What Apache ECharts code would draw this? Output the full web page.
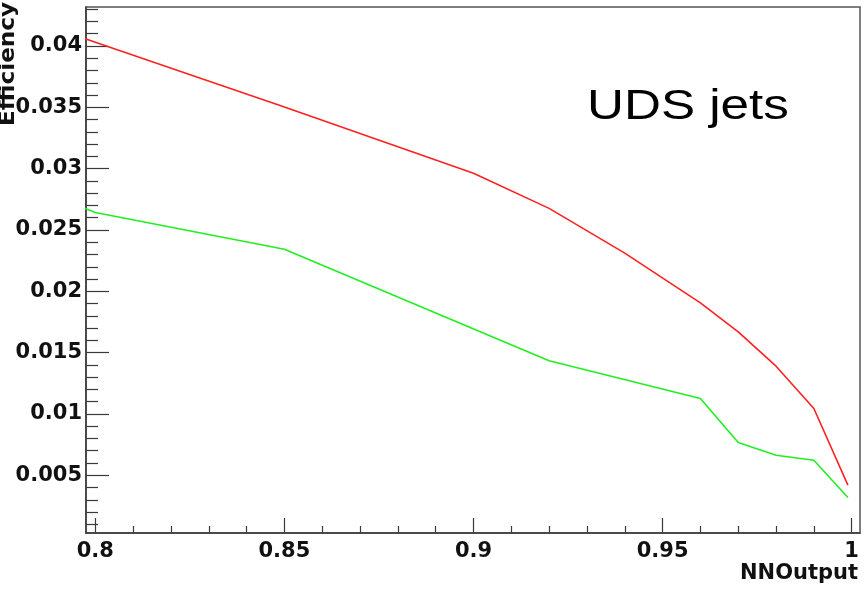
<!DOCTYPE html>
<html>
<head>
<meta charset="utf-8">
<style>
  html, body { margin: 0; padding: 0; background: #ffffff; }
  #chart { width: 865px; height: 591px; }
</style>
<script src="https://cdn.jsdelivr.net/npm/echarts@6/dist/echarts.min.js"></script>
</head>
<body>
<div id="chart"></div>
<script>
// ---- data ----
const nnOutput   = [0.79, 0.80, 0.85, 0.90, 0.92, 0.94, 0.96, 0.97, 0.98, 0.99, 0.999];
const redEff     = [0.04136, 0.04031, 0.03503, 0.02962, 0.02676, 0.02311, 0.01906, 0.01669, 0.01389, 0.01044, 0.00419];
const greenX     = [0.79, 0.80, 0.85, 0.92, 0.96, 0.97, 0.98, 0.99, 0.999];
const greenEff   = [0.02763, 0.02643, 0.02342, 0.01433, 0.01126, 0.00767, 0.00663, 0.00622, 0.00318];

const xMajorTicks  = [0.8, 0.85, 0.9, 0.95, 1.0];
const xMajorLabels = ['0.8', '0.85', '0.9', '0.95', '1'];
const xMinorTicks  = [0.81, 0.82, 0.83, 0.84, 0.86, 0.87, 0.88, 0.89, 0.91, 0.92, 0.93, 0.94,
                      0.96, 0.97, 0.98, 0.99];
const yMajorTicks  = [0.005, 0.01, 0.015, 0.02, 0.025, 0.03, 0.035, 0.04];
const yMajorLabels = ['0.005', '0.01', '0.015', '0.02', '0.025', '0.03', '0.035', '0.04'];
const yMinorTicks  = [0.001, 0.002, 0.003, 0.004, 0.006, 0.007, 0.008, 0.009, 0.011, 0.012,
                      0.013, 0.014, 0.016, 0.017, 0.018, 0.019, 0.021, 0.022, 0.023, 0.024,
                      0.026, 0.027, 0.028, 0.029, 0.031, 0.032, 0.033, 0.034, 0.036, 0.037,
                      0.038, 0.039, 0.041, 0.042, 0.043];

const xMin = 0.79754, xMax = 1.0022;
const yMin = 0.00029, yMax = 0.04318;

const labelFont = { fontFamily: 'DejaVu Sans', fontWeight: 'bold', fontSize: 21, color: '#111' };
const axisColor = '#3a3a3a';

function labelFor(ticks, labels) {
  return function (v) {
    let best = 0, d = Infinity;
    ticks.forEach((t, i) => { const dd = Math.abs(t - v); if (dd < d) { d = dd; best = i; } });
    return labels[best];
  };
}

const chart = echarts.init(document.getElementById('chart'), null, { renderer: 'canvas' });
chart.setOption({
  animation: false,
  backgroundColor: '#ffffff',
  grid: { left: 86, right: 5, top: 7, bottom: 58, show: true, borderColor: '#555', borderWidth: 1.5, backgroundColor: 'transparent' },
  xAxis: [
    {
      type: 'value', min: xMin, max: xMax, position: 'bottom',
      axisLine: { show: true, onZero: false, lineStyle: { color: axisColor, width: 1.5 } },
      axisTick: { show: true, inside: true, length: 15, customValues: xMajorTicks, lineStyle: { color: axisColor, width: 1.2 } },
      axisLabel: { show: true, margin: 8, customValues: xMajorTicks, formatter: labelFor(xMajorTicks, xMajorLabels), ...labelFont },
      splitLine: { show: false }
    },
    {
      type: 'value', min: xMin, max: xMax, position: 'bottom',
      axisLine: { show: false },
      axisTick: { show: true, inside: true, length: 7, customValues: xMinorTicks, lineStyle: { color: axisColor, width: 1.2 } },
      axisLabel: { show: false },
      splitLine: { show: false }
    }
  ],
  yAxis: [
    {
      type: 'value', min: yMin, max: yMax, position: 'left',
      axisLine: { show: true, onZero: false, lineStyle: { color: axisColor, width: 1.5 } },
      axisTick: { show: true, inside: true, length: 23, customValues: yMajorTicks, lineStyle: { color: axisColor, width: 1.2 } },
      axisLabel: { show: true, margin: 4, customValues: yMajorTicks, formatter: labelFor(yMajorTicks, yMajorLabels), ...labelFont },
      splitLine: { show: false }
    },
    {
      type: 'value', min: yMin, max: yMax, position: 'left',
      axisLine: { show: false },
      axisTick: { show: true, inside: true, length: 12, customValues: yMinorTicks, lineStyle: { color: axisColor, width: 1.2 } },
      axisLabel: { show: false },
      splitLine: { show: false }
    }
  ],
  series: [
    {
      type: 'line', xAxisIndex: 0, yAxisIndex: 0, clip: true,
      data: nnOutput.map((x, i) => [x, redEff[i]]),
      showSymbol: false, symbol: 'none',
      lineStyle: { color: '#ff2020', width: 1.6 }
    },
    {
      type: 'line', xAxisIndex: 0, yAxisIndex: 0, clip: true,
      data: greenX.map((x, i) => [x, greenEff[i]]),
      showSymbol: false, symbol: 'none',
      lineStyle: { color: '#22ee22', width: 1.6 }
    }
  ],
  graphic: [
    {
      type: 'text', x: 587, y: 107, scaleX: 1.19,
      style: { text: 'UDS jets', fontFamily: 'Liberation Sans', fontSize: 43, fill: '#000', align: 'left', verticalAlign: 'middle' }
    },
    {
      type: 'text', x: 858, y: 574,
      style: { text: 'NNOutput', fontFamily: 'DejaVu Sans', fontWeight: 'bold', fontSize: 21, fill: '#111', align: 'right', verticalAlign: 'middle' }
    },
    {
      type: 'text', x: 9, y: 126, rotation: Math.PI / 2, scaleX: 1.1,
      style: { text: 'Efficiency', fontFamily: 'DejaVu Sans', fontWeight: 'bold', fontSize: 21, fill: '#111', align: 'left', verticalAlign: 'middle' }
    }
  ]
});
</script>
</body>
</html>
